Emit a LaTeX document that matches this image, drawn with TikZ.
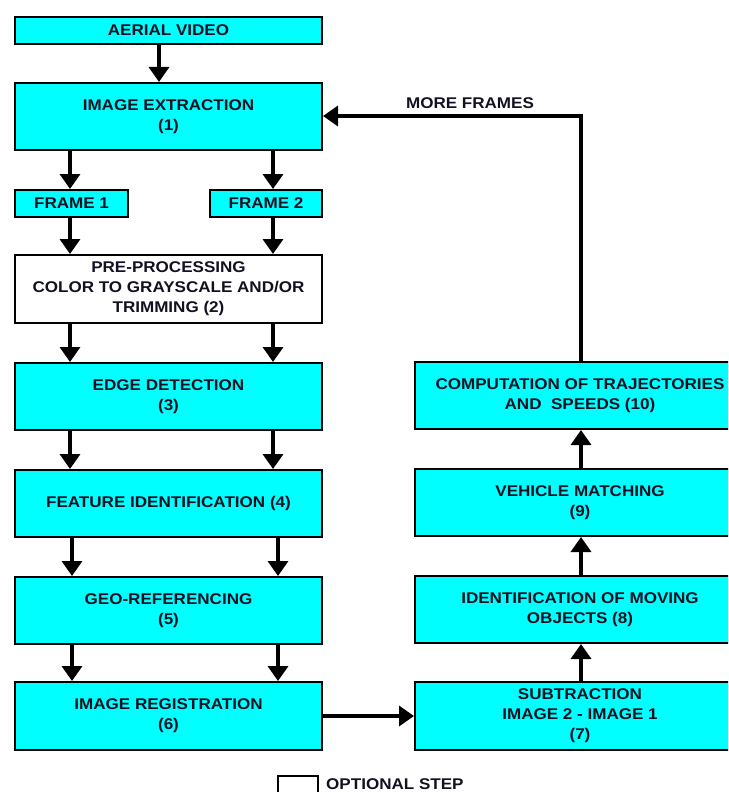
\documentclass[tikz,border=0pt]{standalone}
\usepackage{fontspec}
\setmainfont[FakeStretch=1.1]{Liberation Sans}
\usetikzlibrary{arrows.meta,calc}
\definecolor{boxcyan}{HTML}{00FFFF}
\definecolor{ink}{HTML}{111122}
\tikzset{
  box/.style={draw=black, line width=2pt, fill=boxcyan, inner sep=0pt, align=center,
    text=ink, font=\fontsize{15.5}{20}\selectfont\bfseries},
  whitebox/.style={box, fill=white},
  arr/.style={line width=3.5pt, -{Triangle[width=20pt,length=15pt]}},
  lbl/.style={text=ink, font=\fontsize{15.5}{20}\selectfont\bfseries, inner sep=0pt}
}
\begin{document}
\begin{tikzpicture}[x=1pt,y=-1pt]
\useasboundingbox (0,0) rectangle (728,792);
\clip (0,0) rectangle (728,792);
% left column
\node[box, minimum width=307, minimum height=27] (ae) at (168.5,30.5) {AERIAL VIDEO};
\node[box, minimum width=307, minimum height=67] (ie) at (168.5,116.5) {IMAGE EXTRACTION\\(1)};
\node[box, minimum width=113, minimum height=27] (f1) at (71.5,203.5) {FRAME 1};
\node[box, minimum width=112, minimum height=27] (f2) at (266,203.5) {FRAME 2};
\node[whitebox, minimum width=307, minimum height=68] (pre) at (168.5,289) {PRE-PROCESSING\\COLOR TO GRAYSCALE AND/OR\\TRIMMING (2)};
\node[box, minimum width=307, minimum height=67] (ed) at (168.5,396.5) {EDGE DETECTION\\(3)};
\node[box, minimum width=307, minimum height=67] (fe) at (168.5,503.5) {FEATURE IDENTIFICATION (4)};
\node[box, minimum width=307, minimum height=67] (geo) at (168.5,610.5) {GEO-REFERENCING\\(5)};
\node[box, minimum width=307, minimum height=68] (reg) at (168.5,716) {IMAGE REGISTRATION\\(6)};
% right column
\node[box, minimum width=330, minimum height=67] (co) at (580,395.5) {COMPUTATION OF TRAJECTORIES\\AND\ \ SPEEDS (10)};
\node[box, minimum width=330, minimum height=67] (vm) at (580,502.5) {VEHICLE MATCHING\\(9)};
\node[box, minimum width=330, minimum height=67] (mo) at (580,609.5) {IDENTIFICATION OF MOVING\\OBJECTS (8)};
\node[box, minimum width=330, minimum height=68] (su) at (580,716) {SUBTRACTION\\IMAGE 2 - IMAGE 1\\(7)};
% legend
\node[whitebox, minimum width=40, minimum height=30, anchor=north west] (opt) at (277,775) {};
\node[lbl, anchor=west] (optl) at (326,784) {OPTIONAL STEP};
% column coordinates
\coordinate (cm) at (159,0);
\coordinate (c1) at (70,0);
\coordinate (c2) at (273,0);
\coordinate (c3) at (72,0);
\coordinate (c4) at (278,0);
\coordinate (cr) at (581,0);
\coordinate (loop) at (581,116);
% arrows
\draw[arr] (ae.south -| cm) -- (ie.north -| cm);
\draw[arr] (ie.south -| c1) -- (f1.north -| c1);
\draw[arr] (ie.south -| c2) -- (f2.north -| c2);
\draw[arr] (f1.south -| c1) -- (pre.north -| c1);
\draw[arr] (f2.south -| c2) -- (pre.north -| c2);
\draw[arr] (pre.south -| c1) -- (ed.north -| c1);
\draw[arr] (pre.south -| c2) -- (ed.north -| c2);
\draw[arr] (ed.south -| c1) -- (fe.north -| c1);
\draw[arr] (ed.south -| c2) -- (fe.north -| c2);
\draw[arr] (fe.south -| c3) -- (geo.north -| c3);
\draw[arr] (fe.south -| c4) -- (geo.north -| c4);
\draw[arr] (geo.south -| c3) -- (reg.north -| c3);
\draw[arr] (geo.south -| c4) -- (reg.north -| c4);
\draw[arr] (reg.east) -- (su.west |- reg.east);
\draw[arr] (su.north -| cr) -- (mo.south -| cr);
\draw[arr] (mo.north -| cr) -- (vm.south -| cr);
\draw[arr] (vm.north -| cr) -- (co.south -| cr);
\draw[arr] (co.north -| cr) -- (loop) -- (ie.east |- loop);
\node[lbl] (mf) at (470,103) {MORE FRAMES};
\end{tikzpicture}
\end{document}
